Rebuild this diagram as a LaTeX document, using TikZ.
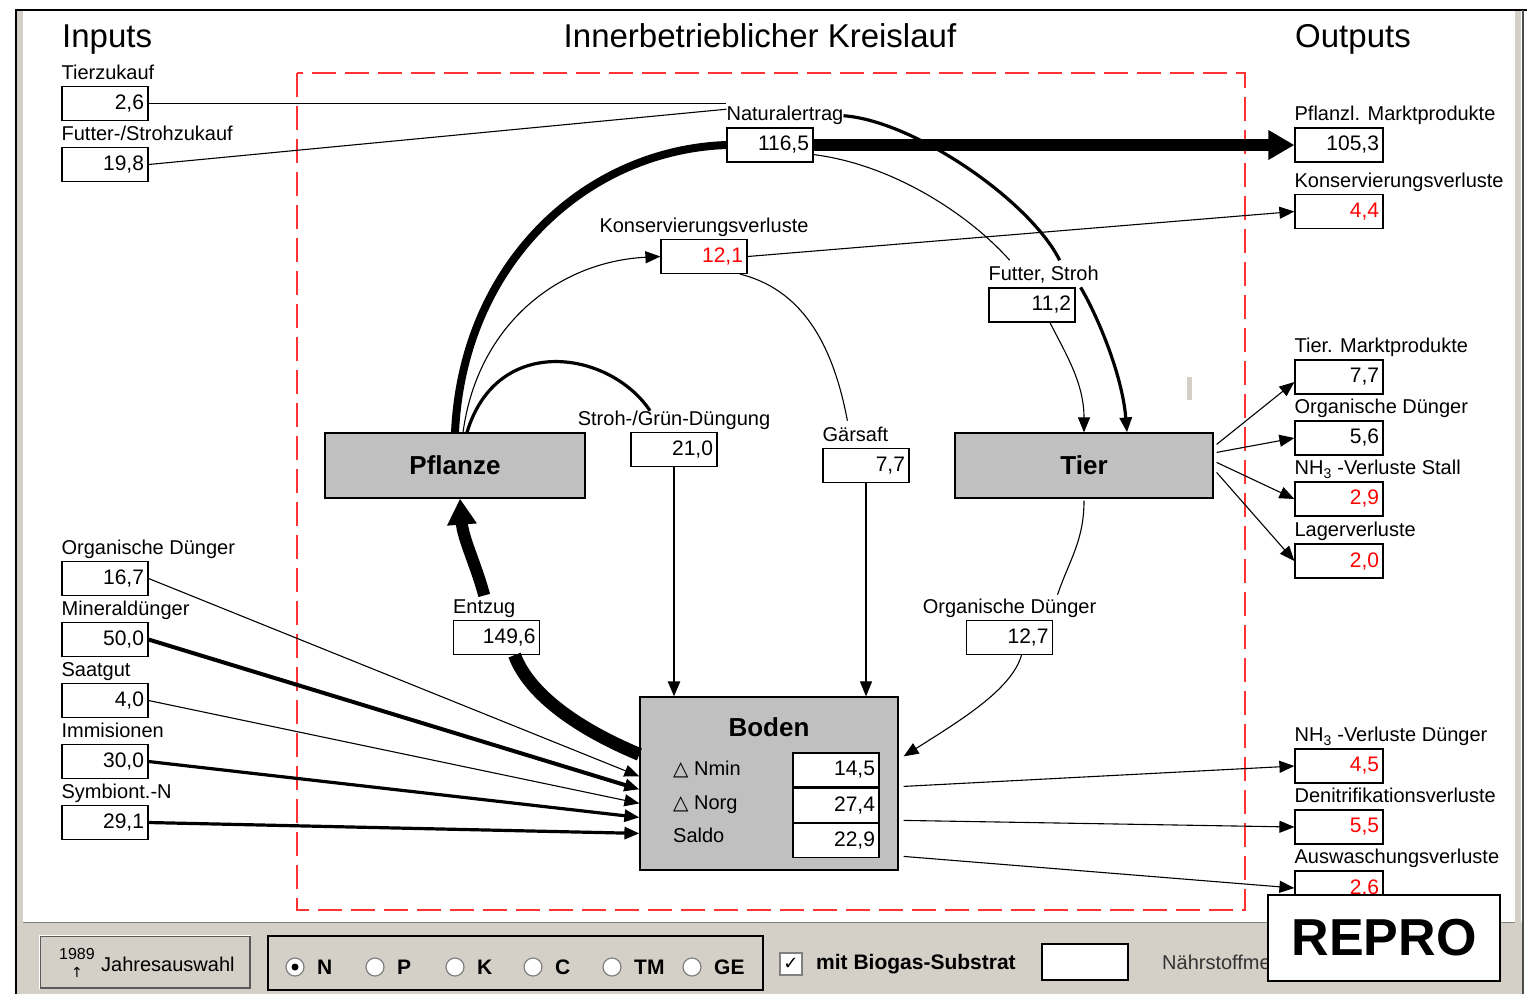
\documentclass[tikz,border=0pt]{standalone}
\usepackage{fontspec}
\setmainfont{Liberation Sans}
\newfontfamily\symfont{DejaVu Sans}
\usepackage{tikz}
\usetikzlibrary{arrows.meta, positioning, calc}
\definecolor{wingray}{HTML}{D4D0C8}
\definecolor{boxgray}{HTML}{C0C0C0}
\definecolor{lossred}{HTML}{FF0000}
\definecolor{dashred}{HTML}{FF3333}

\begin{document}
\begin{tikzpicture}[
  x=1pt, y=-1pt,
  vbox/.style={draw=black, fill=white, line width=1.2pt, minimum height=34pt,
    text width=78pt, inner sep=4pt, align=right, font=\fontsize{21}{24}\selectfont},
  wbox/.style={vbox, text width=80pt},
  loss/.style={text=lossred},
  lab/.style={inner sep=0pt, anchor=base west, font=\fontsize{20}{22}\selectfont},
  clab/.style={lab, anchor=base},
  hdr/.style={inner sep=0pt, anchor=base west, font=\fontsize{33}{36}\selectfont},
  stock/.style={draw=black, fill=boxgray, line width=1.2pt,
    font=\fontsize{26}{28}\selectfont\bfseries},
  flow1/.style={line width=1.1pt},
  flow2/.style={line width=2.5pt},
  flow3/.style={line width=3.2pt},
  arr/.style={-{Triangle[length=15pt,width=12pt]}},
  bigarr/.style={-{Triangle[length=26pt,width=28pt]}},
  radio/.style={circle, draw=gray, fill=white, line width=1.2pt, minimum size=18pt, inner sep=0pt},
  rlab/.style={anchor=west, inner sep=0pt, font=\fontsize{21}{24}\selectfont\bfseries}
]

\useasboundingbox (0,0) rectangle (1530,994);

% ---- Window ----
\fill[white] (0,0) rectangle (1530,994);
\fill[wingray] (16,922) rectangle (1522,994);
\draw[gray, line width=1pt] (22,922) -- (1515,922);
\fill[wingray] (17,10) rectangle (23,994);
\fill[wingray] (1515,10) rectangle (1521,994);
\draw[black, line width=2pt] (15,10) -- (1527,10);
\draw[black, line width=2pt] (16,10) -- (16,994);
\draw[black!70, line width=2pt] (1523,10) -- (1523,994);
\fill[wingray] (1187,377) rectangle (1192,400);

% ---- Farm boundary ----
\draw[dashred, line width=1.5pt, dash pattern=on 24pt off 9pt] (297,73) rectangle (1245,910);

% ---- Headings ----
\node[hdr] (h_in) at (62,47) {Inputs};
\node[hdr, anchor=base] (h_kreis) at (760,47) {Innerbetrieblicher Kreislauf};
\node[hdr] (h_out) at (1295,47) {Outputs};

% ---- Inputs ----
\node[vbox] (v_tierzu) at (105,103.5) {2,6};
\node[lab] (l_tierzu) at ([yshift=6.5pt]v_tierzu.north west) {Tierzukauf};
\node[vbox] (v_futterzu) at (105,164.5) {19,8};
\node[lab] (l_futterzu) at ([yshift=6.5pt]v_futterzu.north west) {Futter-/Strohzukauf};

\node[vbox] (v_orgin) at (105,578.5) {16,7};
\node[lab] (l_orgin) at ([yshift=6.5pt]v_orgin.north west) {Organische Dünger};
\node[vbox] (v_mineral) at (105,639.5) {50,0};
\node[lab] (l_mineral) at ([yshift=6.5pt]v_mineral.north west) {Mineraldünger};
\node[vbox] (v_saat) at (105,700.5) {4,0};
\node[lab] (l_saat) at ([yshift=6.5pt]v_saat.north west) {Saatgut};
\node[vbox] (v_immi) at (105,761.5) {30,0};
\node[lab] (l_immi) at ([yshift=6.5pt]v_immi.north west) {Immisionen};
\node[vbox] (v_symb) at (105,822.5) {29,1};
\node[lab] (l_symb) at ([yshift=6.5pt]v_symb.north west) {Symbiont.-N};

% ---- Outputs ----
\node[wbox] (v_pmarkt) at (1339,145) {105,3};
\node[lab] (l_pmarkt) at ([yshift=6.5pt]v_pmarkt.north west) {Pflanzl. Marktprodukte};
\node[wbox, loss] (v_kverl) at (1339,211.5) {4,4};
\node[lab] (l_kverl) at ([yshift=6.5pt]v_kverl.north west) {Konservierungsverluste};
\node[wbox] (v_tmarkt) at (1339,377) {7,7};
\node[lab] (l_tmarkt) at ([yshift=6.5pt]v_tmarkt.north west) {Tier. Marktprodukte};
\node[wbox] (v_orgout) at (1339,438) {5,6};
\node[lab] (l_orgout) at ([yshift=6.5pt]v_orgout.north west) {Organische Dünger};
\node[wbox, loss] (v_nh3stall) at (1339,499) {2,9};
\node[lab] (l_nh3stall) at ([yshift=6.5pt]v_nh3stall.north west) {NH\textsubscript{3} -Verluste Stall};
\node[wbox, loss] (v_lager) at (1339,561) {2,0};
\node[lab] (l_lager) at ([yshift=6.5pt]v_lager.north west) {Lagerverluste};
\node[wbox, loss] (v_nh3dueng) at (1339,766) {4,5};
\node[lab] (l_nh3dueng) at ([yshift=6.5pt]v_nh3dueng.north west) {NH\textsubscript{3} -Verluste Dünger};
\node[wbox, loss] (v_deni) at (1339,827) {5,5};
\node[lab] (l_deni) at ([yshift=6.5pt]v_deni.north west) {Denitrifikationsverluste};
\node[wbox, loss] (v_ausw) at (1339,888) {2,6};
\node[lab] (l_ausw) at ([yshift=6.5pt]v_ausw.north west) {Auswaschungsverluste};

% ---- Pools ----
\node[stock, minimum width=260pt, minimum height=65pt] (pflanze) at (455,465.5) {Pflanze};
\node[stock, minimum width=258pt, minimum height=65pt] (tier) at (1084,465.5) {Tier};
\node[stock, minimum width=258pt, minimum height=173pt] (boden) at (769,783.5) {};
\node[font=\fontsize{26}{28}\selectfont\bfseries, anchor=base, inner sep=0pt] (t_boden)
  at ([yshift=-40pt]boden.north) {Boden};
\node[vbox] (b_nmin) at (836,770) {14,5};
\node[vbox, below=0pt of b_nmin] (b_norg) {27,4};
\node[vbox, below=0pt of b_norg] (b_saldo) {22,9};
\node[lab] (r_nmin) at (673,775) {{\symfont △} Nmin};
\node[lab] (r_norg) at (673,809) {{\symfont △} Norg};
\node[lab] (r_saldo) at (673,842) {Saldo};

% ---- Internal flows ----
\node[vbox] (v_natur) at (770,145) {116,5};
\node[lab] (l_natur) at ([yshift=6.5pt]v_natur.north west) {Naturalertrag};
\node[vbox, loss] (v_kons) at (704,256.5) {12,1};
\node[clab] (l_kons) at ([yshift=6.5pt]v_kons.north) {Konservierungsverluste};
\node[vbox] (v_futter) at (1032,305) {11,2};
\node[lab] (l_futter) at ([yshift=6.5pt]v_futter.north west) {Futter, Stroh};
\node[vbox] (v_stroh) at (674,449.5) {21,0};
\node[clab] (l_stroh) at ([yshift=6.5pt]v_stroh.north) {Stroh-/Grün-Düngung};
\node[vbox] (v_gaer) at (866,465.5) {7,7};
\node[lab] (l_gaer) at ([yshift=6.5pt]v_gaer.north west) {Gärsaft};
\node[vbox] (v_entzug) at (496.5,637.5) {149,6};
\node[lab] (l_entzug) at ([yshift=6.5pt]v_entzug.north west) {Entzug};
\node[vbox] (v_orgdue) at (1009.5,637.5) {12,7};
\node[clab] (l_orgdue) at ([yshift=6.5pt]v_orgdue.north) {Organische Dünger};

% ---- Connectors: plant side ----
\draw[line width=8pt] (pflanze.north) .. controls +(8,-170) and +(-140,5) .. (v_natur.west);
\draw[line width=12pt, bigarr] (v_natur.east) -- (v_pmarkt.west);
\draw[flow1, arr] ([xshift=8pt]pflanze.north) .. controls +(15,-110) and +(-100,5) .. (v_kons.west);
\draw[flow1, arr] (v_kons.east) -- (v_kverl.west);
\draw[flow3] ([xshift=12pt]pflanze.north) .. controls +(30,-100) and +(-40,-60) .. ([xshift=-24pt]l_stroh.north);
\draw[flow2, arr] (v_stroh.south) -- (v_stroh.south |- boden.north);
\draw[flow1] ([xshift=36pt]v_kons.south) .. controls +(60,15) and +(-15,-80) .. ([shift={(-8pt,6pt)}]l_gaer.north);
\draw[flow1, arr] (v_gaer.south) -- (v_gaer.south |- boden.north);
\draw[line width=13pt] ($(boden.north west)+(0,58)$) .. controls +(-60,-25) and +(15,40) .. ([xshift=18pt]v_entzug.south);
\draw[line width=12pt, bigarr] ([yshift=4pt]l_entzug.north) .. controls +(-8,-30) and +(3,40) .. ([xshift=5pt]pflanze.south);

% ---- Connectors: animal side ----
\draw[flow1] (v_tierzu.east) -- (v_tierzu.east -| l_natur.west);
\draw[flow1] (v_futterzu.east) -- ([yshift=-3pt]l_natur.north west);
\draw[flow3] (l_natur.east) .. controls +(70,5) and +(-30,-60) .. ([shift={(16pt,6pt)}]l_futter.north);
\draw[flow3, arr] ([xshift=5pt]v_futter.north east) .. controls +(15,25) and +(-5,-60) .. ([xshift=43pt]tier.north);
\draw[flow1] ([yshift=8pt]v_natur.south east) .. controls +(80,10) and +(-40,-45) .. ([shift={(-34pt,6pt)}]l_futter.north);
\draw[flow1, arr] ([xshift=18pt]v_futter.south) .. controls +(15,30) and +(0,-50) .. (tier.north);
\draw[flow1] ([yshift=-2pt]tier.south) .. controls +(0,40) and +(12,-35) .. ([shift={(48pt,4pt)}]l_orgdue.north);
\draw[flow1, arr] ([xshift=12pt]v_orgdue.south) .. controls +(-10,35) and +(55,-35) .. ($(boden.north east)+(5,60)$);
\draw[flow1, arr] ($(tier.north east)+(3,12)$) -- ([yshift=-5pt]v_tmarkt.west);
\draw[flow1, arr] ($(tier.north east)+(3,20)$) -- (v_orgout.west);
\draw[flow1, arr] ($(tier.north east)+(3,30)$) -- (v_nh3stall.west);
\draw[flow1, arr] ($(tier.north east)+(3,40)$) -- (v_lager.west);

% ---- Connectors: soil ----
\draw[flow1, arr] (v_orgin.east) -- ($(boden.north west)+(0,80)$);
\draw[line width=4pt, arr] (v_mineral.east) -- ($(boden.north west)+(0,93)$);
\draw[flow1, arr] (v_saat.east) -- ($(boden.north west)+(0,107)$);
\draw[flow3, arr] (v_immi.east) -- ($(boden.north west)+(0,121)$);
\draw[flow3, arr] (v_symb.east) -- ($(boden.north west)+(0,137)$);
\draw[flow1, arr] ($(boden.north east)+(5,90)$) -- (v_nh3dueng.west);
\draw[flow1, arr] ($(boden.north east)+(5,124)$) -- (v_deni.west);
\draw[flow1, arr] ($(boden.north east)+(5,160)$) -- (v_ausw.west);

% ---- Control bar ----
\node[draw=gray!70!black, fill=wingray, line width=1.5pt, minimum width=210pt, minimum height=52pt] (btn_jahr) at (145,962) {};
\draw[white, line width=1.5pt] (btn_jahr.south west) -- (btn_jahr.north west) -- (btn_jahr.north east);
\node[inner sep=0pt, font=\fontsize{16}{16}\selectfont] (t_year) at (77,954) {1989};
\node[inner sep=0pt, font=\fontsize{14}{14}\selectfont\symfont] (t_up) at (77,972) {↑};
\node[lab, anchor=west] (t_jahr) at (101,964) {Jahresauswahl};

\node[draw=black, line width=2pt, minimum width=495pt, minimum height=54pt] (grp_elem) at (515.5,963) {};
\foreach \x/\el in {295/N, 375/P, 455/K, 533/C, 612/TM, 692/GE} {
  \node[radio] (rb-\el) at (\x,967) {};
  \node[rlab] (rl-\el) at (\x+22,967) {\el};
}
\fill[black] (rb-N) circle (3.5pt);

\node[draw=gray, fill=white, line width=1.2pt, minimum size=22pt, inner sep=0pt,
  font=\fontsize{18}{18}\selectfont\symfont] (cb_bio) at (791,964) {✓};
\node[rlab] (t_bio) at (816,964) {mit Biogas-Substrat};
\node[draw=black, line width=1.5pt, fill=white, minimum width=86pt, minimum height=36pt] (in_bio) at (1085,962) {};
\node[lab, anchor=west, text=black!80] (t_naehr) at (1162,962) {Nährstoffme};

% ---- Stamp ----
\node[draw=black, line width=2pt, fill=white, minimum width=232pt, minimum height=86pt,
  font=\fontsize{52}{56}\selectfont\bfseries] (repro) at (1384,937.5) {REPRO};

\end{tikzpicture}
\end{document}
